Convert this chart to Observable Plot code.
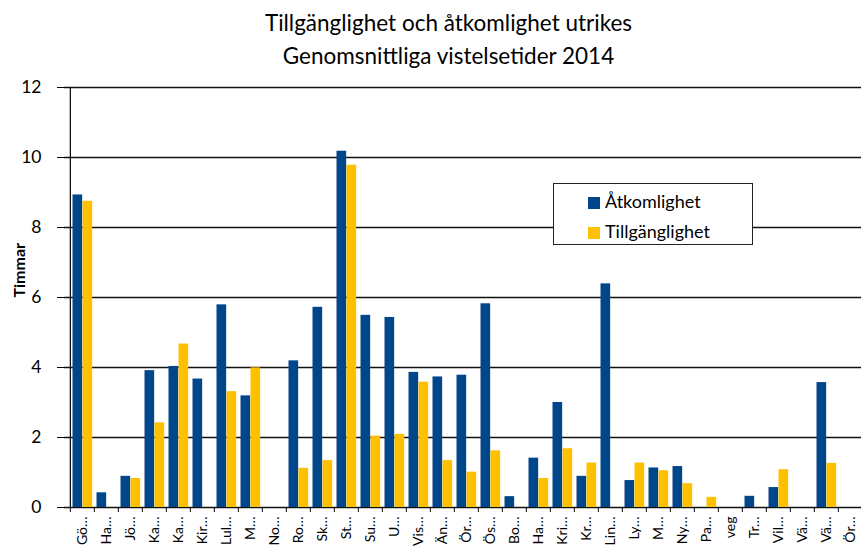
<!DOCTYPE html>
<html><head><meta charset="utf-8">
<script src="https://cdn.jsdelivr.net/npm/d3@7"></script>
<script src="https://cdn.jsdelivr.net/npm/@observablehq/plot@0.6"></script>
<style>
html,body{margin:0;padding:0;background:#fff;overflow:hidden;}
#wrap{position:relative;width:861px;height:552px;font-family:Lato,sans-serif;color:#000;}
#title{height:70px;box-sizing:border-box;padding-top:6px;padding-left:36px;text-align:center;font-size:22.5px;line-height:33px;}
#legend{position:absolute;left:553px;top:183px;width:200px;height:62px;box-sizing:border-box;border:1px solid #222;background:#fff;font-size:18px;}
.item{position:absolute;left:34px;height:20px;line-height:20px;white-space:nowrap;}
.sw{display:inline-block;width:12px;height:12px;margin-right:5px;vertical-align:-1px;}
</style>
</head><body>
<div id="wrap">
  <div id="title">Tillgänglighet och åtkomlighet utrikes<br>Genomsnittliga vistelsetider 2014</div>
  <div id="chart"></div>
  <div id="legend"></div>
</div>
<script>
const labels = ["Gö…","Ha…","Jö…","Ka…","Ka…","Kir…","Lul…","M…","No…","Ro…","Sk…","St…","Su…","U…","Vis…","Än…","Ör…","Ös…","Bo…","Ha…","Kri…","Kr…","Lin…","Ly…","M…","Ny…","Pa…","veg","Tr…","Vil…","Vä…","Vä…","Ör…"];
const seriesNames = ["Åtkomlighet", "Tillgänglighet"];
const atkomlighet = [8.93,0.42,0.89,3.91,4.03,3.67,5.79,3.19,0,4.19,5.72,10.18,5.49,5.43,3.86,3.73,3.78,5.82,0.31,1.41,3.0,0.89,6.39,0.77,1.13,1.17,0,0,0.32,0.57,0,3.57,0];
const tillganglighet = [8.75,0,0.83,2.42,4.67,0,3.31,3.99,0,1.12,1.34,9.78,2.04,2.09,3.58,1.34,1.01,1.62,0,0.83,1.68,1.27,0,1.27,1.05,0.68,0.29,0,0,1.08,0,1.26,0];
const yTicks = [0,2,4,6,8,10,12];
const colors = ["#00468b", "#ffc000"];

const keys = labels.map((d, i) => i);
const rowsA = keys.map(i => ({key: i, value: atkomlighet[i]})).filter(d => d.value > 0);
const rowsT = keys.map(i => ({key: i, value: tillganglighet[i]})).filter(d => d.value > 0);

const x0 = 64, x1 = 867;
const bw = (x1 - x0) / keys.length;

const chart = Plot.plot({
  width: 861, height: 482,
  marginLeft: 64, marginRight: 0, marginTop: 17, marginBottom: 45,
  style: {fontFamily: "Lato, sans-serif", background: "#fff", overflow: "hidden", color: "#000"},
  x: {type: "band", domain: keys, range: [x0, x1], padding: 0},
  y: {domain: [0, 12]},
  marks: [
    Plot.ruleY(yTicks, {stroke: "#111", strokeWidth: 1.3}),
    Plot.barY(rowsA, {x: "key", y: "value", fill: colors[0], insetLeft: 2.5, insetRight: bw - 12.5}),
    Plot.barY(rowsT, {x: "key", y: "value", fill: colors[1], insetLeft: 12.5, insetRight: bw - 22.5}),
    Plot.ruleX([keys[0]], {x: d => d, dx: -bw / 2, y1: 0, y2: 12, stroke: "#000", strokeWidth: 1.2}),
    Plot.ruleX(keys, {x: d => d, dx: -bw / 2, y1: 0, y2: 0, insetBottom: -5, stroke: "#000"}),
    Plot.axisY({ticks: yTicks, tickSize: 7, tickPadding: 16, fontSize: 17.5, label: null, stroke: "#000"}),
    Plot.axisX({tickSize: 0, tickRotate: -90, tickPadding: 9, tickFormat: i => labels[i], fontSize: 14, label: null}),
    Plot.text(["Timmar"], {frameAnchor: "left", rotate: -90, dx: -45, fontWeight: "bold", fontSize: 16, fill: "#000"})
  ]
});
document.getElementById("chart").appendChild(chart);

const legend = document.getElementById("legend");
seriesNames.forEach((name, i) => {
  const it = document.createElement("div");
  it.className = "item";
  it.style.top = (7 + i * 30) + "px";
  it.innerHTML = `<span class="sw" style="background:${colors[i]}"></span>${name}`;
  legend.appendChild(it);
});
</script>
</body></html>
